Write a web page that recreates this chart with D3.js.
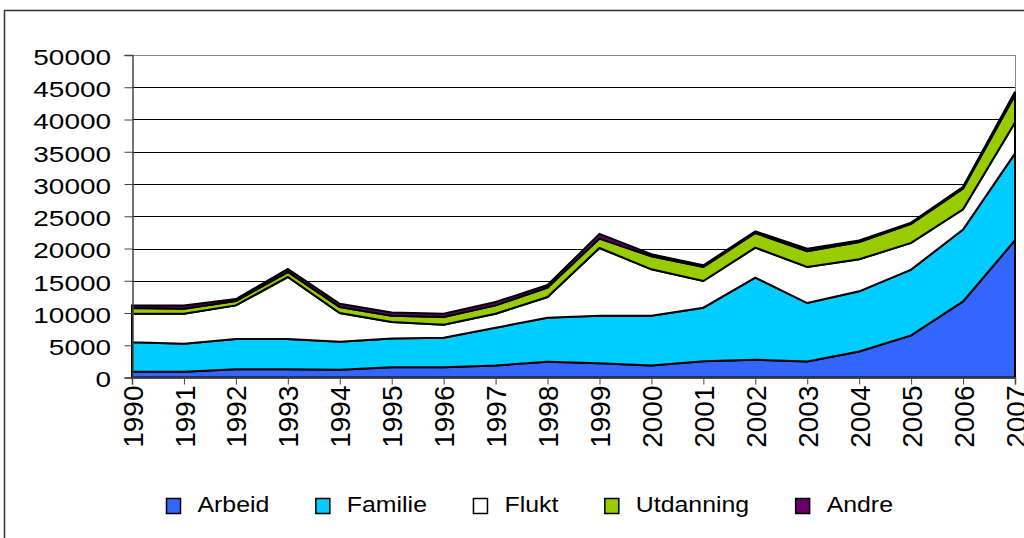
<!DOCTYPE html>
<html lang="no">
<head>
<meta charset="utf-8">
<script src="https://cdn.jsdelivr.net/npm/d3@7"></script>
<style>
  body { margin: 0; background: #fff; }
  text { font-family: "Liberation Sans", Arial, sans-serif; }
</style>
</head>
<body>
<div id="chart"></div>
<script>
// data
const years = [1990,1991,1992,1993,1994,1995,1996,1997,1998,1999,2000,2001,2002,2003,2004,2005,2006,2007];
const seriesNames = ["Arbeid", "Familie", "Flukt", "Utdanning", "Andre"];
const arbeid    = [930, 880, 1290, 1290, 1190, 1600, 1600, 1860, 2440, 2220, 1860, 2530, 2750, 2480, 4040, 6520, 11800, 21280];
const familie   = [4550, 4350, 4660, 4660, 4350, 4460, 4560, 5860, 6830, 7360, 7720, 8290, 12730, 9060, 9320, 10210, 11140, 13460];
const flukt     = [4420, 4670, 5230, 9630, 4450, 2530, 2020, 2170, 3200, 10500, 7190, 4140, 4660, 5590, 4970, 4130, 3150, 4810];
const utdanning = [860, 770, 670, 770, 930, 990, 1190, 1290, 1460, 1460, 2020, 2170, 2270, 2440, 2680, 2950, 3210, 4250];
const andre     = [420, 510, 310, 470, 520, 510, 520, 520, 410, 720, 310, 260, 260, 410, 220, 210, 260, 510];
const yTicks = [0,5000,10000,15000,20000,25000,30000,35000,40000,45000,50000];
const colors = ["#3366FF", "#00CCFF", "#FFFFFF", "#99CC00", "#660066"];

const W = 1024, H = 538;
const plotLeft = 132, plotRight = 1015, plotTop = 55, plotBottom = 377.5;

const svg = d3.select("#chart").append("svg")
  .attr("width", W).attr("height", H);

// outer frame of the chart object
svg.append("rect")
  .attr("x", 4.5).attr("y", 10.5).attr("width", 1040).attr("height", 560)
  .attr("fill", "none").attr("stroke", "#333").attr("stroke-width", 1.5);

const rows = years.map((y, i) => ({
  year: y, Arbeid: arbeid[i], Familie: familie[i], Flukt: flukt[i],
  Utdanning: utdanning[i], Andre: andre[i]
}));

const x = d3.scaleLinear().domain([1990, 2007]).range([plotLeft, plotRight]);
const y = d3.scaleLinear().domain([0, 50000]).range([plotBottom, plotTop]);

// grid lines
svg.append("g").selectAll("line")
  .data(yTicks.filter(d => d > 0))
  .enter().append("line")
  .attr("x1", plotLeft).attr("x2", plotRight)
  .attr("y1", d => Math.round(y(d)) + 0.5).attr("y2", d => Math.round(y(d)) + 0.5)
  .attr("stroke", d => d === 50000 ? "#888" : "#000").attr("stroke-width", 1);

// right border of plot area
svg.append("line")
  .attr("x1", plotRight + 0.5).attr("x2", plotRight + 0.5)
  .attr("y1", plotTop).attr("y2", plotBottom)
  .attr("stroke", "#888").attr("stroke-width", 1);

const stack = d3.stack().keys(seriesNames);
const layers = stack(rows);

const area = d3.area()
  .x(d => x(d.data.year))
  .y0(d => y(d[0]))
  .y1(d => y(d[1]));

svg.append("g").selectAll("path")
  .data(layers)
  .enter().append("path")
  .attr("d", area)
  .attr("fill", (d, i) => colors[i])
  .attr("stroke", "#000")
  .attr("stroke-width", 2)
  .attr("stroke-linejoin", "miter");

// y axis
const yAxis = svg.append("g")
  .attr("transform", "translate(" + (plotLeft + 0.5) + ",0)")
  .call(d3.axisLeft(y).tickValues(yTicks).tickSize(8).tickFormat(d3.format("d")));
yAxis.select(".domain").attr("stroke", "#444").attr("stroke-width", 1.5);
yAxis.selectAll(".tick line").attr("stroke", "#444");
yAxis.selectAll("text")
  .attr("font-size", "21.5px").attr("fill", "#000")
  .style("font-family", "'Liberation Sans', Arial, sans-serif")
  .attr("x", 0).attr("dy", "0.43em")
  .attr("transform", "translate(-21.5,0) scale(1.3,1)");

// x axis
const xAxis = svg.append("g")
  .attr("transform", "translate(0," + (plotBottom) + ")")
  .call(d3.axisBottom(x).tickValues(years).tickSize(7).tickFormat(d3.format("d")));
xAxis.select(".domain").attr("stroke", "#444").attr("stroke-width", 1.5);
xAxis.selectAll(".tick line").attr("stroke", "#444");
xAxis.selectAll("text")
  .attr("font-size", "28px").attr("fill", "#000")
  .style("font-family", "'Liberation Sans', Arial, sans-serif")
  .style("text-anchor", "end")
  .attr("x", -8).attr("y", 0).attr("dy", "0.36em")
  .attr("transform", "rotate(-90)");

// legend
const legend = svg.append("g");
let lx = 166;
seriesNames.forEach((name, i) => {
  legend.append("rect")
    .attr("x", lx + 0.5).attr("y", 498.5).attr("width", 14).attr("height", 15)
    .attr("fill", colors[i]).attr("stroke", "#000").attr("stroke-width", 1.5);
  const t = legend.append("text")
    .attr("x", 0).attr("y", 0)
    .attr("transform", "translate(" + (lx + 31.5) + ",512.3) scale(1.13,1)")
    .attr("font-size", "22px").attr("fill", "#000")
    .text(name);
  lx += 31.5 + t.node().getComputedTextLength() * 1.13 + 46;
});
</script>
</body>
</html>
